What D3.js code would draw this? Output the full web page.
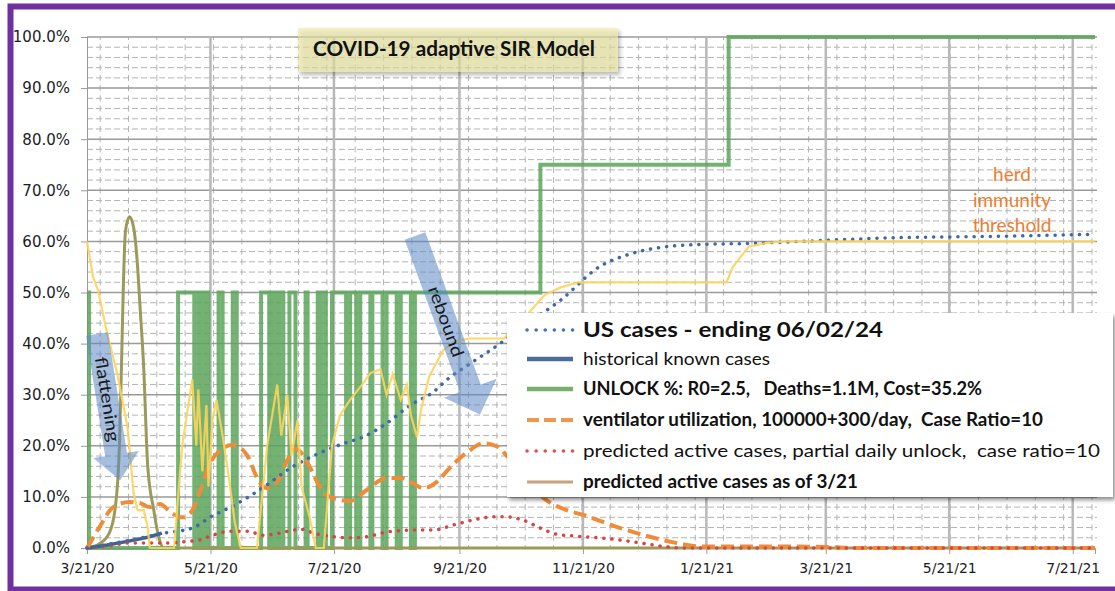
<!DOCTYPE html>
<meta charset="utf-8">
<style>
body { margin: 0; background: #fff; }
svg { display: block; }
.axis text { font: 15px "DejaVu Sans", Verdana, sans-serif; fill: #1c1c24; }
.axis.x text { font-size: 14px; }
.axis path, .axis line { stroke: #999; }
.legend text, .title text, .note text { font-family: Lato, "Open Sans", sans-serif; white-space: pre; }
</style>
<svg width="1115" height="591"></svg>
<script src="https://d3js.org/d3.v7.min.js"></script>
<script>

// every series: [days since 3/21/20, percent]
var usCases = [[0,0],[21,1.5],[38,2.9],[52,3.9],[62,6.3],[71,8],[85,11.3],[102,16],[115,18.6],[125,20.2],
  [138,22],[148,24.4],[160,28],[171,30.5],[178,33],[189,36],[204,40],[214,43],[234,48.5],[253,55],
  [268,57.5],[283,58.8],[303,59.4],[327,59.6],[352,60],[398,60.7],[451,61],[498,61.4]];

var historical = [[0,0],[10,0.6],[20,1.3],[30,2.1],[37,2.9]];

var unlock = [[0,50],[1,0],[45,50],[53,0],[55,50],[56,0],[57,50],[58,0],[59,50],[60,0],[65,50],[67,0],
  [72,50],[74,0],[86,50],[90,0],[91,50],[92,0],[93,50],[94,0],[95,50],[97,0],[100,50],[103,0],
  [108,50],[109,0],[114,50],[115,0],[116,50],[118,0],[121,50],[128,0],[130,50],[133,0],[135,50],
  [140,0],[141,50],[146,0],[148,50],[153,0],[155,50],[160,0],[162,50],[224,75],[317,100],[498,100]];

var ventilator = [[0,0],[1.5,1],[6,4],[13,8],[21,9],[26,8.8],[31,8],[36,8.6],[42,6.8],[47,6],[51,6.8],
  [56,11.3],[60,15.9],[66,19.2],[72,20.2],[79,18.2],[85,13],[89,11.7],[94,13],[99,17.2],[103,19.4],
  [110,15.9],[115,12],[120,10],[130,9.2],[138,11.3],[148,13.7],[155,13.7],[161,12.7],[166,11.7],
  [173,13],[179,15.6],[188,18.8],[196,20.5],[203,19.8],[207,18.2],[216,14],[225,10],[237,7.4],
  [245,6.5],[262,4.1],[278,2.2],[291,1],[303,0.3],[332,0.3],[367,0.2],[377,0],[498,0]];

var activePartial = [[0,0],[11,0.4],[21,1],[31,1],[40,1],[47,1.2],[56,1.6],[62,2.5],[71,3.3],[79,3.3],
  [87,2.5],[95,2.9],[102,3.5],[105,3.7],[114,2.7],[122,2.2],[130,2],[138,2.2],[148,3.1],[160,3.5],
  [171,3.5],[181,4.5],[191,5.5],[201,6.1],[207,6.1],[215,5.5],[224,3.9],[232,2.7],[242,2.3],[253,2],
  [270,1.2],[283,0.4],[294,0],[498,0]];

var active321 = [[0,0],[6,0.8],[11,2.9],[14,8],[16,20],[17,35],[18,52],[19,62],[21,64.8],[23,62.8],
  [25,55],[26,48.5],[28,35.4],[30,16],[33,7.4],[35,2.9],[38,0],[498,0]];

var threshold = [[0,60],[3,53],[5.4,50.5],[10,42],[15,34],[20,23.7],[23,10.8],[25,7.4],[28,7.4],[30,4],
  [31,0],[43,0],[47,20],[52,33],[54,20],[55,31],[57,15],[59,28],[60,12],[62,25],[64,29],[67,22],
  [70,14],[73,5],[76,0],[84,0],[89,20],[94,32],[96,22],[99,30],[101,18],[104,25],[106,12],[110,6],
  [113,0],[117,0],[121,20],[125,26],[130,29],[135,31.5],[140,34.2],[145,35],[148,30],[151,34],
  [155,29],[158,32],[160,26],[163,21.7],[165,27],[169,33.5],[176,38.7],[182,40.5],[189,41],[206,41],
  [216,45],[226,49.5],[234,51],[243,52],[316,52],[319,55],[327,59],[336,59.7],[345,60],[498,60]];

var tickLabels = ["3/21/20","5/21/20","7/21/20","9/21/20","11/21/20","1/21/21","3/21/21","5/21/21","7/21/21"];
var yTicks = [0,10,20,30,40,50,60,70,80,90,100];

var legendLabels = ["US cases - ending 06/02/24", "historical known cases",
  "UNLOCK %: R0=2.5,   Deaths=1.1M, Cost=35.2%",
  "ventilator utilization, 100000+300/day,  Case Ratio=10",
  "predicted active cases, partial daily unlock,  case ratio=10",
  "predicted active cases as of 3/21"];

var svg = d3.select("svg");
var start = Date.UTC(2020, 2, 21);
function day(d) { return new Date(start + d * 864e5); }
var parseTick = d3.utcParse("%m/%d/%y");

var x = d3.scaleUtc().domain([day(0), day(498)]).range([87, 1095]);
var y = d3.scaleLinear().domain([0, 100]).range([548, 37]);

var defs = svg.append("defs");
defs.append("filter").attr("id", "shadow")
    .attr("x", "-5%").attr("y", "-10%").attr("width", "115%").attr("height", "130%")
  .append("feDropShadow")
    .attr("dx", 2).attr("dy", 3).attr("stdDeviation", 2)
    .attr("flood-color", "#000").attr("flood-opacity", 0.45);

// grid
var grid = svg.append("g");
var minorY = d3.range(2, 100, 2).filter(function(v) { return v % 10; });
grid.selectAll(".hmin").data(minorY).enter().append("line")
    .attr("x1", 87).attr("x2", 1097)
    .attr("y1", y).attr("y2", y)
    .attr("stroke", "#b4b4b4").attr("stroke-dasharray", "6,3");

var minorX = d3.range(6.5, 499, 14);
grid.selectAll(".vmin").data(minorX).enter().append("line")
    .attr("x1", function(d) { return x(day(d)); }).attr("x2", function(d) { return x(day(d)); })
    .attr("y1", 37).attr("y2", 548)
    .attr("stroke", "#b4b4b4").attr("stroke-dasharray", "6,4.22").attr("stroke-dashoffset", 3);

grid.selectAll(".hmaj").data(yTicks.slice(1)).enter().append("line")
    .attr("x1", 87).attr("x2", 1097)
    .attr("y1", y).attr("y2", y)
    .attr("stroke", "#9a9a9a").attr("stroke-width", 1.5);

grid.selectAll(".vmaj").data(tickLabels.slice(1)).enter().append("line")
    .attr("x1", function(d) { return x(parseTick(d)); }).attr("x2", function(d) { return x(parseTick(d)); })
    .attr("y1", 37).attr("y2", 548)
    .attr("stroke", "#b8b8b8").attr("stroke-width", 2.5);

// title box
var title = svg.append("g").attr("class", "title");
title.append("rect")
    .attr("x", 298).attr("y", 28).attr("width", 320).attr("height", 44)
    .attr("fill", "#ece7a4").attr("fill-opacity", 0.6)
    .attr("filter", "url(#shadow)");
title.append("text")
    .attr("x", 313).attr("y", 56)
    .attr("textLength", 282).attr("lengthAdjust", "spacingAndGlyphs")
    .style("font-size", "20px").style("font-weight", "bold").attr("fill", "#111")
    .text("COVID-19 adaptive SIR Model");

// axes
svg.append("g").attr("class", "axis y")
    .attr("transform", "translate(87,0)")
    .call(d3.axisLeft(y).tickValues(yTicks).tickSize(6).tickPadding(11)
      .tickFormat(function(d) { return d.toFixed(1) + "%"; }));

svg.append("g").attr("class", "axis x")
    .attr("transform", "translate(0,548)")
    .call(d3.axisBottom(x).tickValues(tickLabels.map(parseTick)).tickSize(6).tickPadding(9)
      .tickFormat(d3.utcFormat("%-m/%-d/%y")));

// series
function line(curve) {
  return d3.line()
      .x(function(d) { return x(day(d[0])); })
      .y(function(d) { return y(d[1]); })
      .curve(curve);
}
var series = svg.append("g").attr("fill", "none");

series.append("path").datum(unlock)
    .attr("d", line(d3.curveStepAfter))
    .attr("stroke", "#5aa55a").attr("stroke-opacity", 0.85).attr("stroke-width", 4);

series.append("path").datum(active321)
    .attr("d", line(d3.curveMonotoneX))
    .attr("stroke", "#9c9a5a").attr("stroke-width", 3);

series.append("path").datum(historical)
    .attr("d", line(d3.curveLinear))
    .attr("stroke", "#41628f").attr("stroke-width", 3.5);

series.append("path").datum(ventilator)
    .attr("d", line(d3.curveMonotoneX))
    .attr("stroke", "#ef8c3a").attr("stroke-width", 4).attr("stroke-dasharray", "13,6");

series.append("path").datum(activePartial)
    .attr("d", line(d3.curveMonotoneX))
    .attr("stroke", "#d64541").attr("stroke-width", 3.5)
    .attr("stroke-linecap", "round").attr("stroke-dasharray", "0.1,8");

series.append("path").datum(usCases)
    .attr("d", line(d3.curveMonotoneX))
    .attr("stroke", "#3f6aa6").attr("stroke-width", 3.5)
    .attr("stroke-linecap", "round").attr("stroke-dasharray", "0.1,8");

series.append("path").datum(threshold)
    .attr("d", line(d3.curveLinear))
    .attr("stroke", "#fcd45a").attr("stroke-opacity", 0.9).attr("stroke-width", 2.2);

// arrows
function arrow(ox, oy, angle, len, headLen, bw, hw, label, textAt, textLen) {
  var g = svg.append("g").attr("transform", "translate(" + ox + "," + oy + ") rotate(" + angle + ")");
  var b = len - headLen;
  g.append("path")
      .attr("d", "M" + (-bw) + ",0H" + bw + "V" + b + "H" + hw + "L0," + len + "L" + (-hw) + "," + b + "H" + (-bw) + "Z")
      .attr("fill", "#5b89c4").attr("fill-opacity", 0.55);
  g.append("text")
      .attr("transform", "translate(0," + textAt + ") rotate(90)")
      .attr("text-anchor", "middle").attr("dy", "0.35em")
      .attr("textLength", textLen).attr("lengthAdjust", "spacingAndGlyphs")
      .style("font", "17px Lato, sans-serif").attr("fill", "#1a1a1a")
      .text(label);
}
arrow(97, 334, -9, 148, 26, 11, 23, "flattening", 66, 86);
arrow(415, 236, -20, 190, 28, 11, 28, "rebound", 91, 74);

// herd immunity note
svg.append("g").attr("class", "note")
  .selectAll("text").data(["herd", "immunity", "threshold"]).enter().append("text")
    .attr("x", 1012).attr("y", function(d, i) { return 181 + i * 25.5; })
    .attr("text-anchor", "middle")
    .style("font-size", "19px").attr("fill", "#ed7d31")
    .text(function(d) { return d; });

// legend
var legend = svg.append("g").attr("class", "legend");
legend.append("rect")
    .attr("x", 507).attr("y", 313).attr("width", 606).attr("height", 184)
    .attr("fill", "#fff").attr("filter", "url(#shadow)");

var rowY = [330, 359, 389, 420, 451, 482];
var swatch = [
  {color: "#4a72b0", width: 3.5, dash: "0.1,9", cap: "round"},
  {color: "#4d6d99", width: 4.5, dash: null, cap: "butt"},
  {color: "#76b06c", width: 4.5, dash: null, cap: "butt"},
  {color: "#f0964a", width: 4, dash: "12,5", cap: "butt"},
  {color: "#d9534f", width: 3.5, dash: "0.1,9", cap: "round"},
  {color: "#c8a27a", width: 3, dash: null, cap: "butt"}
];
var textStyle = [
  {size: 21, weight: "bold", len: 300},
  {size: 18, weight: "normal", len: 187},
  {size: 18, weight: "bold", len: 399},
  {size: 18, weight: "bold", len: 460},
  {size: 18, weight: "normal", len: 517},
  {size: 18, weight: "bold", len: 275}
];
var rows = legend.selectAll(".row").data(legendLabels).enter().append("g");
rows.append("line")
    .attr("x1", 527).attr("x2", 573)
    .attr("y1", function(d, i) { return rowY[i]; }).attr("y2", function(d, i) { return rowY[i]; })
    .attr("stroke", function(d, i) { return swatch[i].color; })
    .attr("stroke-width", function(d, i) { return swatch[i].width; })
    .attr("stroke-dasharray", function(d, i) { return swatch[i].dash; })
    .attr("stroke-linecap", function(d, i) { return swatch[i].cap; });
rows.append("text")
    .attr("x", 583).attr("y", function(d, i) { return rowY[i] + (i ? 6 : 7); })
    .attr("textLength", function(d, i) { return textStyle[i].len; })
    .attr("lengthAdjust", "spacingAndGlyphs")
    .style("font-size", function(d, i) { return textStyle[i].size + "px"; })
    .style("font-weight", function(d, i) { return textStyle[i].weight; })
    .attr("fill", "#111")
    .text(function(d) { return d; });

// frame
svg.append("rect")
    .attr("x", 10.5).attr("y", 6.5).attr("width", 1130).attr("height", 583)
    .attr("fill", "none").attr("stroke", "#7030a0").attr("stroke-width", 6);

</script>
